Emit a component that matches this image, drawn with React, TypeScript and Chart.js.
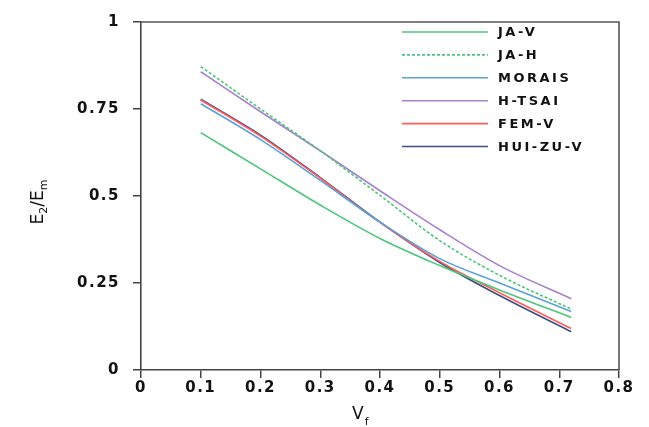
import React, { useEffect, useRef } from "react";
import { Chart, registerables } from "chart.js";

Chart.register(...registerables);

// Fibre volume fraction (x) and normalised transverse modulus E2/Em (y)
const vf = [0.1, 0.2, 0.3, 0.4, 0.5, 0.6, 0.72];

const jaV = [0.682, 0.578, 0.474, 0.378, 0.300, 0.230, 0.151];
const jaH = [0.872, 0.750, 0.630, 0.502, 0.372, 0.272, 0.175];
const morais = [0.765, 0.662, 0.545, 0.425, 0.320, 0.250, 0.168];
const hTsai = [0.857, 0.742, 0.630, 0.515, 0.403, 0.300, 0.205];
const femV = [0.776, 0.672, 0.551, 0.424, 0.312, 0.222, 0.119];
const huiZuV = [0.778, 0.675, 0.553, 0.425, 0.309, 0.214, 0.110];

const seriesNames = ["JA-V", "JA-H", "MORAIS", "H-TSAI", "FEM-V", "HUI-ZU-V"];
const seriesColors = ["#4cc67a", "#4cc67a", "#5aa2d8", "#a582cf", "#ff5c5c", "#3c4f80"];

const xTicks = [0, 0.1, 0.2, 0.3, 0.4, 0.5, 0.6, 0.7, 0.8];
const yTicks = [0, 0.25, 0.5, 0.75, 1];

const W = 649;
const H = 427;

const tickFont = { family: "'DejaVu Sans', sans-serif", size: 15, weight: "bold" as const };

const legendPlugin = {
  id: "sideLegend",
  afterDraw(chart: any) {
    const ctx = chart.ctx;
    ctx.save();
    ctx.letterSpacing = "2.5px";
    ctx.font = "bold 13px 'DejaVu Sans', sans-serif";
    ctx.textBaseline = "middle";
    ctx.fillStyle = "#111";
    chart.data.datasets.forEach((ds: any, i: number) => {
      const y = 32 + i * 22.9;
      ctx.beginPath();
      ctx.strokeStyle = ds.borderColor;
      ctx.lineWidth = 1.6;
      ctx.setLineDash(ds.borderDash || []);
      ctx.moveTo(402, y);
      ctx.lineTo(488, y);
      ctx.stroke();
      ctx.setLineDash([]);
      ctx.fillText(ds.label, 498, y + 1);
    });
    ctx.restore();
  },
};

const framePlugin = {
  id: "frameAndTitles",
  beforeDraw(chart: any) {
    chart.ctx.letterSpacing = "1.5px";
  },
  afterDraw(chart: any) {
    const ctx = chart.ctx;
    const a = chart.chartArea;
    ctx.save();
    ctx.letterSpacing = "0px";
    // top and right edges of the plot frame
    ctx.strokeStyle = "#555";
    ctx.lineWidth = 1.6;
    ctx.beginPath();
    ctx.moveTo(a.left, a.top);
    ctx.lineTo(a.right, a.top);
    ctx.lineTo(a.right, a.bottom);
    ctx.stroke();

    ctx.fillStyle = "#111";
    ctx.textBaseline = "alphabetic";
    const big = "17px 'DejaVu Sans', sans-serif";
    const small = "11px 'DejaVu Sans', sans-serif";
    // y-axis title: E2/Em, rotated
    ctx.save();
    ctx.translate(43, 202);
    ctx.rotate(-Math.PI / 2);
    const parts: [string, boolean][] = [["E", false], ["2", true], ["/E", false], ["m", true]];
    let total = 0;
    parts.forEach(([t, sub]) => {
      ctx.font = sub ? small : big;
      total += ctx.measureText(t).width;
    });
    let x = -total / 2;
    parts.forEach(([t, sub]) => {
      ctx.font = sub ? small : big;
      ctx.fillText(t, x, sub ? 4 : 0);
      x += ctx.measureText(t).width;
    });
    ctx.restore();

    // x-axis title: Vf
    ctx.font = big;
    ctx.fillText("V", 352, 419);
    const vw = ctx.measureText("V").width;
    ctx.font = small;
    ctx.fillText("f", 352 + vw + 1, 425);
    ctx.restore();
  },
};

export default function App() {
  const ref = useRef<HTMLCanvasElement | null>(null);

  useEffect(() => {
    if (!ref.current) return;
    const seriesValues = [jaV, jaH, morais, hTsai, femV, huiZuV];
    const chart = new Chart(ref.current, {
      type: "line",
      data: {
        datasets: seriesValues.map((vals, i) => ({
          label: seriesNames[i],
          data: vals.map((v, j) => ({ x: vf[j], y: v })),
          borderColor: seriesColors[i],
          backgroundColor: seriesColors[i],
          borderWidth: 1.6,
          borderDash: i === 1 ? [3, 2] : [],
          pointRadius: 0,
          cubicInterpolationMode: "monotone" as const,
          fill: false,
        })),
      },
      options: {
        animation: false,
        responsive: false,
        devicePixelRatio: 1,
        layout: { padding: { top: 12, right: 30, left: 0, bottom: 0 } },
        plugins: {
          legend: { display: false },
          tooltip: { enabled: false },
        },
        scales: {
          x: {
            type: "linear",
            min: 0,
            max: 0.8,
            afterBuildTicks: (scale: any) => {
              scale.ticks = xTicks.map((v) => ({ value: v }));
            },
            afterFit: (scale: any) => {
              scale.height = 57;
            },
            ticks: {
              font: tickFont,
              color: "#111",
              padding: 1,
              maxRotation: 0,
              autoSkip: false,
              callback: (v: any) => String(v),
            },
            grid: {
              display: true,
              drawOnChartArea: false,
              drawTicks: true,
              tickLength: 8,
              color: "#444",
              lineWidth: 1.5,
            },
            border: { display: true, color: "#444", width: 1.6 },
          },
          y: {
            type: "linear",
            min: 0,
            max: 1,
            afterBuildTicks: (scale: any) => {
              scale.ticks = yTicks.map((v) => ({ value: v }));
            },
            afterFit: (scale: any) => {
              scale.width = 141;
            },
            ticks: {
              font: tickFont,
              color: "#111",
              padding: 13,
              autoSkip: false,
              callback: (v: any) => String(v),
            },
            grid: {
              display: true,
              drawOnChartArea: false,
              drawTicks: true,
              tickLength: 8,
              color: "#444",
              lineWidth: 1.5,
            },
            border: { display: true, color: "#444", width: 1.6 },
          },
        },
      },
      plugins: [framePlugin, legendPlugin],
    });
    return () => chart.destroy();
  }, []);

  return (
    <div style={{ position: "absolute", left: 0, top: 0, width: W, height: H, background: "#fff" }}>
      <canvas ref={ref} width={W} height={H} style={{ width: W, height: H, display: "block" }} />
    </div>
  );
}
